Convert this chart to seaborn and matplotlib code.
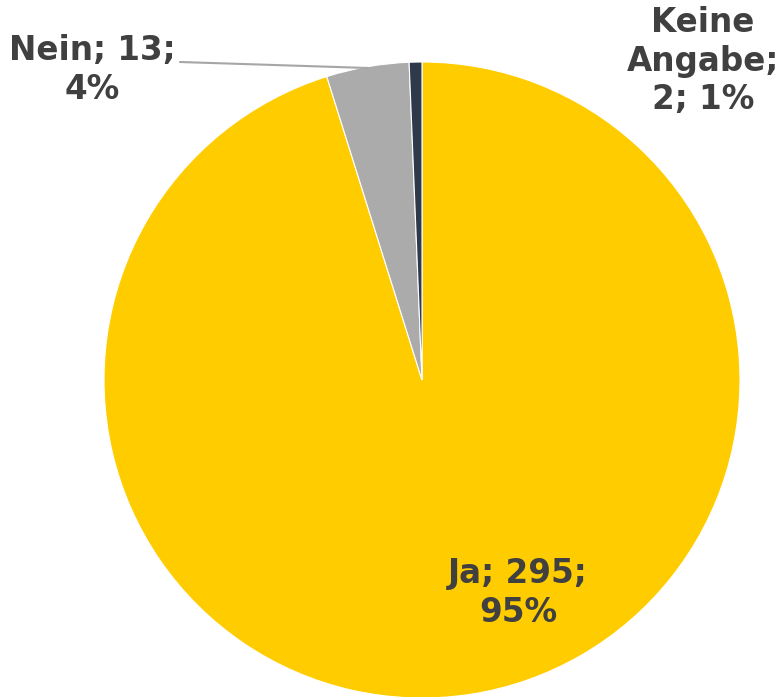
import matplotlib
matplotlib.use("Agg")
import matplotlib.pyplot as plt
import seaborn as sns

# Daten
kategorien = ["Ja", "Nein", "Keine Angabe"]
anzahl = [295, 13, 2]
farben = ["#FFCC00", "#ABABAB", "#2E3A4B"]

sns.set_theme(style="white")
plt.rcParams['font.family'] = ['DejaVu Sans']

W, H = 782, 697
fig = plt.figure(figsize=(W / 100, H / 100), dpi=100)
ax = fig.add_axes([0, 0, 1, 1])

cx, cy, r = 422, H - 380, 318
ax.pie(anzahl, colors=farben, startangle=90, counterclock=False,
       center=(cx, cy), radius=r,
       wedgeprops=dict(edgecolor="white", linewidth=0.8))
ax.set_xlim(0, W)
ax.set_ylim(0, H)
ax.set_aspect("equal")
ax.axis("off")

gesamt = sum(anzahl)
prozent = [round(v / gesamt * 100) for v in anzahl]

txt = dict(fontsize=23.5, fontweight="bold", color="#404040",
           ha="center", va="center", linespacing=1.22)

ax.text(518, H - 593, f"{kategorien[0]}; {anzahl[0]};\n{prozent[0]}%", **txt)
ax.text(92, H - 70, f"{kategorien[1]}; {anzahl[1]};\n{prozent[1]}%", **txt)
ax.text(703, H - 61, "Keine\nAngabe;\n" + f"{anzahl[2]}; {prozent[2]}%", **txt)

# Führungslinie für "Nein"
ax.plot([180, 368], [H - 62, H - 68], color="#A6A6A6", lw=1.5)

fig.savefig("out.png", dpi=100)
